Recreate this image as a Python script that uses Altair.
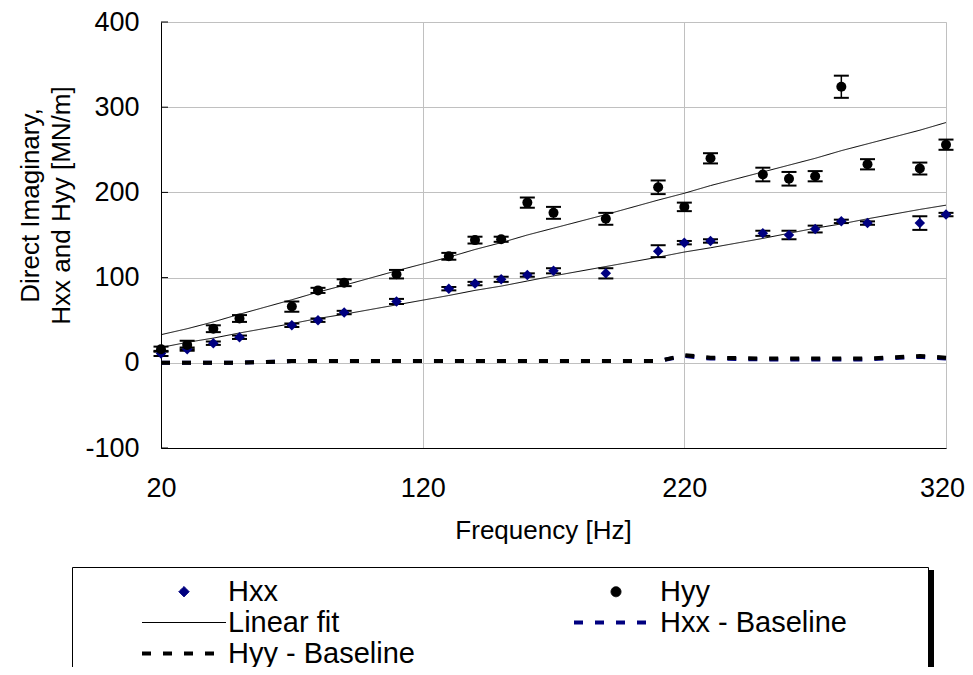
import altair as alt
import pandas as pd

# ---------------- data ----------------
freq = [20, 30, 40, 50, 70, 80, 90, 110, 130, 140, 150, 160, 170, 190,
        210, 220, 230, 250, 260, 270, 280, 290, 310, 320]
hxx = [11, 16, 23, 30, 44, 50, 59, 72, 87, 93, 98, 103, 108, 105,
       131, 141, 143, 152, 150, 157, 166, 164, 164, 174]
hxx_err = [3, 2, 2, 2, 2, 2, 2, 3, 2, 2, 3, 2, 3, 6,
           7, 2, 2, 3, 5, 4, 2, 2, 8, 2]
hyy = [16, 21, 40, 52, 66, 85, 94, 104, 125, 144, 145, 188, 176, 169,
       206, 183, 240, 221, 216, 219, 324, 233, 228, 256]
hyy_err = [3, 5, 4, 4, 6, 3, 4, 5, 4, 4, 3, 6, 7, 7,
           8, 5, 6, 8, 8, 6, 13, 6, 7, 6]
fit_hxx = [18, 24, 29, 35, 46, 52, 57, 68, 79, 85, 90, 96, 102, 113,
           124, 130, 135, 146, 152, 158, 163, 169, 180, 185]
fit_hyy = [33, 40, 48, 57, 74, 83, 91, 108, 124, 133, 141, 150, 158, 174,
           191, 199, 208, 224, 232, 240, 249, 257, 273, 282]
base_hxx = [0, 0, 0, 0, 2, 2, 2, 2, 2, 2, 2, 2, 2, 2,
            2, 8, 5, 4, 4, 4, 4, 4, 7, 5]
base_hyy = [0, 0, 0, 0, 2, 2, 2, 2, 2, 2, 2, 2, 2, 2,
            2, 9, 6, 5, 5, 5, 5, 5, 8, 6]

series_domain = ["Hxx", "Hyy", "Linear fit", "Hxx - Baseline", "Hyy - Baseline"]
series_colors = ["#000080", "#000000", "#000000", "#000080", "#000000"]
series_shapes = ["diamond", "circle", "stroke", "stroke", "stroke"]
series_sizes = [110, 100, 7056, 7056, 7056]
series_dash = [[1, 0], [1, 0], [1, 0], [9, 12], [9, 12]]
series_widths = [1, 1, 1, 4, 4]

x_ticks = [20, 120, 220, 320]
y_ticks = [-100, 0, 100, 200, 300, 400]

x_title = "Frequency [Hz]"
y_title = ["Direct Imaginary,", "Hxx and Hyy [MN/m]"]

# ---------------- tables ----------------
n = len(freq)
pts = pd.DataFrame({
    "f": freq * 2,
    "v": hxx + hyy,
    "err": hxx_err + hyy_err,
    "series": ["Hxx"] * n + ["Hyy"] * n,
})
pts["lo"] = pts["v"] - pts["err"]
pts["hi"] = pts["v"] + pts["err"]

lines_black = pd.DataFrame({
    "f": freq * 3,
    "v": fit_hxx + fit_hyy + base_hyy,
    "series": ["Linear fit"] * (2 * n) + ["Hyy - Baseline"] * n,
    "curve": ["fit_hxx"] * n + ["fit_hyy"] * n + ["base_hyy"] * n,
})
lines_blue = pd.DataFrame({
    "f": freq,
    "v": base_hxx,
    "series": ["Hxx - Baseline"] * n,
    "curve": ["base_hxx"] * n,
})
ticks_df = pd.DataFrame({"t": y_ticks})

FONT = "Liberation Sans"

xscale = alt.Scale(domain=[20, 320], nice=False, zero=False)
yscale = alt.Scale(domain=[-100, 400], nice=False, zero=False)

xaxis = alt.Axis(values=x_ticks, grid=True, ticks=False,
                 labelExpr="'' + datum.value",
                 labelOffset={"condition": {"test": "datum.value == 320", "value": -4}, "value": 0},
                 labelFontSize=27, labelPadding=27, labelFont=FONT,
                 labelColor="black", labelFlush=False, labelOverlap=False,
                 titleFont=FONT, titleFontSize=26, titleFontWeight="normal",
                 titleColor="black", titleX=382, titleY=90,
                 titleBaseline="alphabetic", titleAnchor="middle",
                 domainColor="black", gridColor="#c0c0c0")
yaxis = alt.Axis(values=y_ticks, grid=True, ticks=False,
                 labelExpr="'' + datum.value",
                 labelFontSize=27, labelPadding=22, labelFont=FONT,
                 labelColor="black", labelOverlap=False,
                 titleFont=FONT, titleFontSize=26, titleFontWeight="normal",
                 titleColor="black", titleX=-123, titleY=183,
                 titleBaseline="alphabetic", titleAlign="center",
                 titleLineHeight=31,
                 domainColor="black", gridColor="#c0c0c0")


def X(field):
    return alt.X(field, type="quantitative", scale=xscale, axis=xaxis, title=x_title)


def Y(field):
    return alt.Y(field, type="quantitative", scale=yscale, axis=yaxis, title=y_title)


LEG_TITLE = " "
legend = alt.Legend(orient="none", legendX=-89, legendY=545, direction="horizontal",
                    columns=2, columnPadding=99, rowPadding=1, padding=10,
                    gridAlign="all", strokeColor="black", fillColor="white",
                    symbolOffset=58, labelOffset=0, clipHeight=29,
                    labelFont=FONT, labelFontSize=29, labelColor="black",
                    labelLimit=400, titleOrient="right", titlePadding=71,
                    titleFontSize=28, titleFont=FONT)

color = alt.Color("series:N", scale=alt.Scale(domain=series_domain, range=series_colors),
                  legend=legend, title=LEG_TITLE)
shape = alt.Shape("series:N", scale=alt.Scale(domain=series_domain, range=series_shapes),
                  title=LEG_TITLE)
size = alt.Size("series:N", scale=alt.Scale(type="ordinal", domain=series_domain, range=series_sizes),
                title=LEG_TITLE)
dash = alt.StrokeDash("series:N", scale=alt.Scale(domain=series_domain, range=series_dash),
                      title=LEG_TITLE)
swidth = alt.StrokeWidth("series:N", scale=alt.Scale(type="ordinal", domain=series_domain, range=series_widths),
                         title=LEG_TITLE)

blue_base = alt.Chart(lines_blue).mark_line(strokeCap="butt").encode(
    x=X("f"), y=Y("v"), color=color, strokeDash=dash, strokeWidth=swidth, detail="curve:N")

black_lines = alt.Chart(lines_black).mark_line(strokeCap="butt").encode(
    x=X("f"), y=Y("v"), color=color, strokeDash=dash, strokeWidth=swidth, detail="curve:N")

err_rule = alt.Chart(pts).mark_rule(color="black", strokeWidth=1.5).encode(
    x=X("f"), y=Y("lo"), y2="hi:Q")
cap_lo = alt.Chart(pts).mark_tick(orient="horizontal", size=15, thickness=2, color="black",
                                  opacity=1).encode(x=X("f"), y=Y("lo"))
cap_hi = alt.Chart(pts).mark_tick(orient="horizontal", size=15, thickness=2, color="black",
                                  opacity=1).encode(x=X("f"), y=Y("hi"))

points = alt.Chart(pts).mark_point(filled=True, opacity=1).encode(
    x=X("f"), y=Y("v"), color=color, shape=shape, size=size)

inner_ticks = alt.Chart(ticks_df).mark_rule(color="black", strokeWidth=1).encode(
    y=Y("t"), x=alt.value(0), x2=alt.value(7))

shadow = alt.Chart(ticks_df).mark_rule(color="black", strokeWidth=6).encode(
    x=alt.value(770), y=alt.value(548), y2=alt.value(700))

chart = alt.layer(
    blue_base, black_lines, err_rule, cap_lo, cap_hi, points, inner_ticks, shadow
).properties(
    width=785, height=426,
    autosize=alt.AutoSizeParams(type="none"),
    padding={"left": 153, "top": 14, "right": 19, "bottom": 219},
).configure_view(
    stroke="black", strokeWidth=1
).configure(
    background="white"
)

chart.save("out.html", embed_options={"renderer": "svg", "actions": False})
